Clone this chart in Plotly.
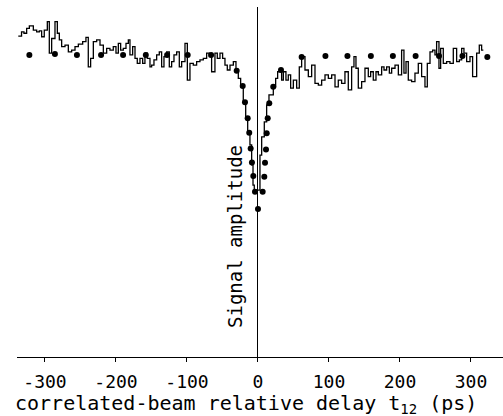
import plotly.graph_objects as go

# Histogram (step) edges in ps and levels (relative amplitude)
hist_edges = [
    -337.6, -333, -329.6, -325.8, -322, -316.4, -311.7, -308, -304.7, -301,
    -296.7, -293.9, -290.6, -285.9, -282.6, -279.8, -276.5, -271.8, -267.1, -262.4,
    -257.7, -253, -246.9, -242.3, -239, -235.7, -231.9, -227.2, -222.5, -217.8,
    -213.1, -208.5, -203.8, -200, -196.7, -193.4, -189.7, -185.9, -182.6, -180.3,
    -176.5, -173.2, -170, -166.2, -162.4, -159.2, -155.9, -152.1, -149.8, -146.5,
    -142.7, -139, -135.7, -132.4, -128.6, -124.9, -121.6, -118.3, -114.5, -110.8,
    -107.5, -102.8, -99.5, -95.8, -91.1, -86.4, -81.7, -77, -72.3, -68.5,
    -65.3, -60.6, -57.3, -53.5, -49.8, -46.5, -43.2, -39.4, -34.7, -31,
    -27.7, -24.4, -20.7, -17.3, -14.5, -11.3, -8.9, -7, -5.2, 2.8,
    5.2, 8.9, 12.2, 15.5, 21.6, 24.9, 27.7, 33.3, 35.7, 39.4,
    42.7, 46.0, 49.8, 54.5, 58.2, 61.5, 66.2, 70.9, 75.6, 80.3,
    85.0, 89.7, 94.4, 99.1, 103.8, 108.5, 113.1, 117.8, 122.5, 127.2,
    131.9, 135.2, 138.0, 141.3, 146.0, 150.7, 155.4, 158.7, 162.4, 166.2,
    169.5, 174.2, 177.5, 181.2, 185.0, 188.3, 193.0, 197.7, 202.3, 205.6,
    208.5, 211.7, 216.4, 221.1, 225.8, 230.5, 235.2, 238.5, 242.3, 246.0,
    249.3, 251.6, 254.9, 257.3, 261.0, 265.7, 270.4, 275.1, 279.8, 283.6,
    286.9, 290.1, 293.9, 298.6, 302.3, 308.0, 311.7, 315.0, 317.4,
]
hist_levels = [
    0.917, 0.929, 0.925, 0.939, 0.946, 0.934, 0.929, 0.932, 0.915, 0.934,
    0.958, 0.868, 0.910, 0.958, 0.925, 0.906, 0.887, 0.891, 0.872, 0.877,
    0.887, 0.894, 0.901, 0.913, 0.829, 0.853, 0.901, 0.906, 0.891, 0.868,
    0.882, 0.877, 0.887, 0.868, 0.896, 0.877, 0.882, 0.896, 0.906, 0.863,
    0.887, 0.853, 0.839, 0.853, 0.839, 0.868, 0.853, 0.829, 0.834, 0.849,
    0.863, 0.872, 0.829, 0.858, 0.872, 0.829, 0.844, 0.863, 0.872, 0.829,
    0.844, 0.896, 0.791, 0.839, 0.834, 0.844, 0.849, 0.853, 0.868, 0.858,
    0.815, 0.868, 0.853, 0.868, 0.853, 0.834, 0.820, 0.834, 0.844, 0.820,
    0.796, 0.772, 0.729, 0.687, 0.644, 0.606, 0.549, 0.491, 0.477, 0.577,
    0.629, 0.672, 0.720, 0.749, 0.772, 0.796, 0.815, 0.791, 0.815, 0.791,
    0.806, 0.768, 0.791, 0.768, 0.829, 0.858, 0.820, 0.801, 0.834, 0.782,
    0.777, 0.791, 0.806, 0.796, 0.806, 0.772, 0.791, 0.782, 0.815, 0.763,
    0.829, 0.858, 0.825, 0.768, 0.787, 0.825, 0.801, 0.815, 0.791, 0.815,
    0.806, 0.829, 0.820, 0.829, 0.811, 0.825, 0.834, 0.806, 0.877, 0.811,
    0.844, 0.791, 0.787, 0.811, 0.839, 0.801, 0.772, 0.839, 0.872, 0.877,
    0.863, 0.901, 0.825, 0.882, 0.839, 0.844, 0.839, 0.882, 0.844, 0.849,
    0.882, 0.868, 0.844, 0.858, 0.801, 0.868, 0.891, 0.877,
]

# Calculated points (dots)
dot_delay = [
    -322, -286, -255, -221, -190, -158, -128, -99, -66,
    -30, -21.5, -18.3, -14.5, -12.3, -10.3, -8.5, -6.6, -4.2, 0,
    6.6, 8.9, 9.9, 11.3, 12.3, 13.7, 15.9, 21.5, 32.4,
    61.5, 95, 126, 159, 190, 222, 255, 288, 323,
]
dot_amp = [
    0.863, 0.866, 0.863, 0.863, 0.863, 0.863, 0.863, 0.863, 0.863,
    0.818, 0.774, 0.728, 0.682, 0.641, 0.596, 0.556, 0.517, 0.472, 0.423,
    0.472, 0.515, 0.555, 0.593, 0.639, 0.682, 0.725, 0.772, 0.820,
    0.857, 0.860, 0.860, 0.860, 0.860, 0.860, 0.860, 0.860, 0.857,
]

tick_vals = [-300, -200, -100, 0, 100, 200, 300]
tick_text = ["-300", "-200", "-100", "0", "100", "200", "300"]

FONT = "DejaVu Sans Mono"

fig = go.Figure()
fig.add_trace(go.Scatter(
    x=hist_edges,
    y=hist_levels + [hist_levels[-1]],
    mode="lines",
    line=dict(shape="hv", color="black", width=1.3),
    hoverinfo="skip",
))
fig.add_trace(go.Scatter(
    x=dot_delay,
    y=dot_amp,
    mode="markers",
    marker=dict(color="black", size=6),
))

fig.update_layout(
    width=503, height=416,
    margin=dict(l=17, r=0, t=7, b=59, autoexpand=False),
    paper_bgcolor="white", plot_bgcolor="white",
    showlegend=False,
    font=dict(family=FONT, color="black"),
    xaxis=dict(
        range=[-339.4, 345.1],
        automargin=False,
        tickvals=tick_vals, ticktext=tick_text,
        ticks="outside", ticklen=4, tickcolor="black", tickwidth=1,
        tickfont=dict(family=FONT, size=18, color="black"),
        ticklabelstandoff=4,
        showline=True, linecolor="black", linewidth=1,
        showgrid=False,
        zeroline=True, zerolinecolor="black", zerolinewidth=1.2,
    ),
    yaxis=dict(range=[0, 1], visible=False, automargin=False),
    annotations=[
        dict(text="correlated-beam relative delay t<sub>12</sub> (ps)",
             xref="paper", yref="paper", x=0.471, y=-0.133,
             xanchor="center", yanchor="middle", showarrow=False,
             font=dict(family=FONT, size=20, color="black")),
        dict(text="Signal amplitude",
             xref="paper", yref="paper", x=0.4486, y=0.343,
             xanchor="center", yanchor="middle", showarrow=False,
             textangle=-90,
             font=dict(family=FONT, size=19, color="black")),
    ],
)

fig.write_html(
    "out.html",
    config={"displayModeBar": False},
    post_script="document.body.style.margin='0';document.body.style.overflow='hidden';",
)
